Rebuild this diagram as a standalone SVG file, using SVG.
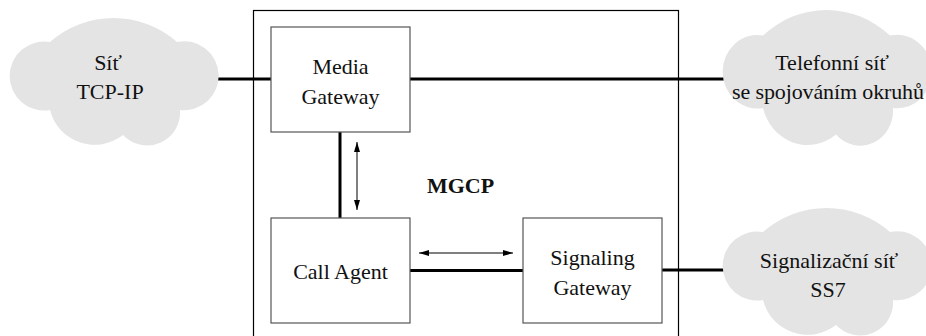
<svg xmlns="http://www.w3.org/2000/svg" width="926" height="336" viewBox="0 0 926 336">
  <defs>
    <style>
      .cloud { fill: #e4e4e4; stroke: none; }
      .box { fill: #ffffff; stroke: #555555; stroke-width: 1.2; }
      .frame { fill: none; stroke: #000000; stroke-width: 1.2; }
      .link { stroke: #000000; stroke-width: 3; fill: none; }
      .msg { stroke: #000000; stroke-width: 1; fill: none; marker-start: url(#head); marker-end: url(#head); }
      .lbl { font-family: "Liberation Serif", "DejaVu Serif", "Times New Roman", serif; font-size: 22px; fill: #111111; text-anchor: middle; }
      .bold { font-weight: bold; }
    </style>
    <marker id="head" viewBox="0 0 10 6" refX="10" refY="3" markerWidth="10" markerHeight="6" markerUnits="userSpaceOnUse" orient="auto-start-reverse">
      <path d="M0,0 L10,3 L0,6 Z" fill="#000000"/>
    </marker>
    <!-- cloud outline in a 208 x 124 box -->
    <path id="cloudShape" d="M40,24 A96,96 0 0 1 167,24 A34.5,34.5 0 1 1 170,92 A33,33 0 0 1 113,117 A46,46 0 0 1 40,92 A34.5,34.5 0 1 1 40,24 Z"/>
  </defs>

  <!-- gateway housing, open at the bottom edge -->
  <rect class="frame" x="253.5" y="10.5" width="425" height="340"/>

  <!-- links between elements -->
  <g id="connectors">
    <line class="link" x1="216" y1="79" x2="271" y2="79"/>
    <line class="link" x1="410" y1="79" x2="726" y2="79"/>
    <line class="link" x1="340" y1="132" x2="340" y2="218"/>
    <line class="link" x1="410" y1="270.5" x2="523" y2="270.5"/>
    <line class="link" x1="662" y1="270" x2="726" y2="270"/>
    <line class="msg" x1="357" y1="142" x2="357" y2="210"/>
    <line class="msg" x1="419" y1="253" x2="513" y2="253"/>
  </g>

  <g id="tcpip">
    <use href="#cloudShape" class="cloud" transform="translate(10,18)"/>
    <text class="lbl" x="108" y="70">Síť</text>
    <text class="lbl" x="110" y="99">TCP-IP</text>
  </g>

  <g id="pstn">
    <use href="#cloudShape" class="cloud" transform="translate(723,10) scale(1,1.065)"/>
    <text class="lbl" x="832" y="70">Telefonní síť</text>
    <text class="lbl" x="828" y="99" textLength="192">se spojováním okruhů</text>
  </g>

  <g id="ss7">
    <use href="#cloudShape" class="cloud" transform="translate(723,208)"/>
    <text class="lbl" x="829" y="268">Signalizační síť</text>
    <text class="lbl" x="828" y="297">SS7</text>
  </g>

  <g id="media-gateway">
    <rect class="box" x="271" y="27" width="139" height="105"/>
    <text class="lbl" x="340.5" y="74">Media</text>
    <text class="lbl" x="340.5" y="104">Gateway</text>
  </g>

  <g id="call-agent">
    <rect class="box" x="271" y="218" width="139" height="105"/>
    <text class="lbl" x="340.5" y="279">Call Agent</text>
  </g>

  <g id="signaling-gateway">
    <rect class="box" x="523" y="218" width="139" height="105"/>
    <text class="lbl" x="592.5" y="265">Signaling</text>
    <text class="lbl" x="592.5" y="295">Gateway</text>
  </g>

  <g id="mgcp-label">
    <text class="lbl bold" x="460.5" y="193">MGCP</text>
  </g>
</svg>
